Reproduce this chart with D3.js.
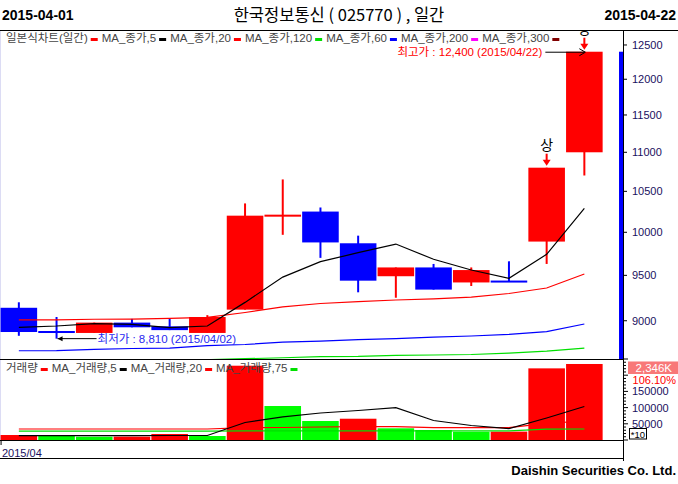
<!DOCTYPE html>
<html><head><meta charset="utf-8">
<script src="https://cdn.jsdelivr.net/npm/d3@7"></script>
<style>
body{margin:0;background:#fff}
svg{display:block}
text{font-family:"Liberation Sans",Arial,"Noto Sans CJK KR",sans-serif}
</style>
</head><body>
<svg id="c" width="678" height="484"></svg>
<script>
// ---------------- data ----------------
const dates = ["2015-04-01","2015-04-02","2015-04-03","2015-04-06","2015-04-07","2015-04-08","2015-04-09","2015-04-10",
               "2015-04-13","2015-04-14","2015-04-15","2015-04-16","2015-04-17","2015-04-20","2015-04-21","2015-04-22"];
const openP  = [9140, 8880, 8870, 8980, 8940, 8870, 9120, 10200, 10250, 9870, 9490, 9590, 9420, 9430, 9890, 11000];
const highP  = [9200, 9040, 8980, 9020, 9020, 9060, 10350, 10650, 10300, 9960, 9590, 9630, 9590, 9660, 10800, 12400];
const lowP   = [8840, 8810, 8870, 8930, 8900, 8870, 9120, 9970, 9700, 9310, 9250, 9340, 9380, 9430, 9630, 10700];
const closeP = [8880, 8860, 8980, 8930, 8900, 9040, 10200, 10200, 9880, 9440, 9590, 9340, 9560, 9430, 10800, 12400];
const ma5    = [8929, 8944, 8970, 8961, 8927, 8944, 9199, 9480, 9656, 9760, 9861, 9684, 9561, 9467, 9741, 10290];
const ma20   = [9010, 9010, 9016, 9018, 9026, 9037, 9089, 9149, 9187, 9208, 9225, 9238, 9257, 9297, 9358, 9516];
const ma60   = [8684, 8686, 8698, 8707, 8712, 8738, 8749, 8774, 8785, 8800, 8811, 8827, 8838, 8854, 8885, 8965];
const ma120  = [8560, 8566, 8572, 8578, 8584, 8592, 8602, 8612, 8623, 8625, 8637, 8640, 8645, 8660, 8681, 8712];
const limitUp = ["2015-04-21","2015-04-22"];
const volume = [154000, 133000, 102000, 105000, 185000, 123000, 2293000, 1049000, 586000, 657000, 361000, 309000, 256000, 259000, 2211000, 2346000];
const volMa5  = [132700, 132700, 132700, 132700, 138900, 138900, 540000, 716000, 833000, 910000, 997000, 602000, 447500, 348800, 679000, 1034000];
const volMa20 = [339500, 339500, 339500, 339500, 339500, 339500, 379600, 385800, 401000, 410500, 410500, 379600, 379600, 379600, 515400, 586400];
const volMa75 = [277000, 277000, 277000, 277000, 277000, 277000, 283000, 283000, 283000, 283000, 283000, 283000, 283000, 283000, 333000, 340000];
const priceTicks = [9000, 9500, 10000, 10500, 11000, 11500, 12000, 12500];
const volTicks = [500000, 1000000, 1500000];
const volMultiplier = 10;
const titleText = "한국정보통신 ( 025770 ) , 일간";
const startLabel = "2015-04-01", endLabel = "2015-04-22";
const monthLabel = "2015/04";
const priceLegend = [
  {label:"일본식차트(일간)", color:"#ff0000"},
  {label:"MA_종가,5", color:"#000000"},
  {label:"MA_종가,20", color:"#ff0000"},
  {label:"MA_종가,120", color:"#00e000"},
  {label:"MA_종가,60", color:"#0000ff"},
  {label:"MA_종가,200", color:"#ff00ff"},
  {label:"MA_종가,300", color:"#800000"}
];
const volLegend = [
  {label:"거래량", color:"#ff0000"},
  {label:"MA_거래량,5", color:"#000000"},
  {label:"MA_거래량,20", color:"#ff0000"},
  {label:"MA_거래량,75", color:"#00e000"}
];
const footer = "Daishin Securities Co. Ltd.";
const volRatioLabel = "106.10%";

// ---------------- layout ----------------
const svg = d3.select("#c");
const RED = "#ff0000", BLUE = "#0000ff", GREEN = "#00ff00", AXC = "#1a1060";
const paneTop = 30, priceBottom = 359, volBottom = 440, plotRight = 623;

const xb = d3.scaleBand().domain(dates).range([0, 603.2]).paddingInner(0.03).paddingOuter(0.015);
const xc = i => xb(dates[i]) + xb.bandwidth() / 2;
const yP = d3.scaleLog().domain([8599, 12725]).range([priceBottom, paneTop]);
const yV = d3.scaleLinear().domain([0, 2500000]).range([volBottom, priceBottom]);

const defs = svg.append("defs");
defs.append("clipPath").attr("id","cp").append("rect").attr("x",0).attr("y",paneTop).attr("width",plotRight).attr("height",priceBottom-paneTop);
defs.append("clipPath").attr("id","cv").append("rect").attr("x",0).attr("y",priceBottom).attr("width",plotRight).attr("height",volBottom-priceBottom);

// header
svg.append("text").attr("x",2).attr("y",20).attr("font-size",14).attr("font-weight","bold").text(startLabel);
svg.append("text").attr("x",676).attr("y",20).attr("text-anchor","end").attr("font-size",14).attr("font-weight","bold").text(endLabel);
svg.append("text").attr("x",339).attr("y",21).attr("text-anchor","middle").attr("font-size",16.5)
  .style("font-family",'"Noto Sans CJK KR","Liberation Sans",sans-serif').text(titleText);

// faint left edge
svg.append("line").attr("x1",0.5).attr("x2",0.5).attr("y1",paneTop).attr("y2",volBottom).attr("stroke","#dcdcf4");

// ---------------- price pane ----------------
const gp = svg.append("g").attr("clip-path","url(#cp)");
function candleColor(i){
  if (closeP[i] > openP[i]) return RED;
  if (closeP[i] < openP[i]) return BLUE;
  return (i === 0 || closeP[i] >= closeP[i-1]) ? RED : BLUE;
}
const cg = gp.selectAll("g.cd").data(dates).join("g");
cg.append("line")
  .attr("x1",(d,i)=>xc(i)).attr("x2",(d,i)=>xc(i))
  .attr("y1",(d,i)=>yP(highP[i])).attr("y2",(d,i)=>yP(lowP[i]))
  .attr("stroke",(d,i)=>candleColor(i)).attr("stroke-width",2);
cg.append("rect")
  .attr("x",d=>xb(d)).attr("width",xb.bandwidth())
  .attr("y",(d,i)=>{const a=yP(openP[i]),b=yP(closeP[i]);return Math.abs(a-b)<2?Math.min(a,b)-1:Math.min(a,b);})
  .attr("height",(d,i)=>Math.max(2,Math.abs(yP(openP[i])-yP(closeP[i]))))
  .attr("fill",(d,i)=>candleColor(i));

const lineP = d3.line().defined(d=>d!=null).x((d,i)=>xc(i)).y(d=>yP(d));
[[ma120,"#00e000"],[ma60,BLUE],[ma20,RED],[ma5,"#000"]].forEach(([arr,c])=>{
  gp.append("path").attr("d",lineP(arr)).attr("fill","none").attr("stroke",c).attr("stroke-width",1.2);
});

// limit-up markers
limitUp.forEach(d=>{
  const i = dates.indexOf(d);
  const cx = xc(i), top = yP(Math.max(openP[i],closeP[i]));
  gp.append("text").attr("x",cx).attr("y",top-17.5).attr("text-anchor","middle").attr("font-size",14)
    .style("font-family",'"Noto Sans CJK KR",sans-serif').text("상");
  gp.append("line").attr("x1",cx).attr("x2",cx).attr("y1",top-14).attr("y2",top-7).attr("stroke",RED).attr("stroke-width",2);
  gp.append("path").attr("d",`M${cx-4},${top-8}L${cx+4},${top-8}L${cx},${top-2}Z`).attr("fill",RED);
});

// highest / lowest annotations
(function(){
  const iH = d3.maxIndex(highP), iL = d3.minIndex(lowP);
  const hx = xc(iH), hy = yP(highP[iH]);
  gp.append("line").attr("x1",hx-39).attr("x2",hx).attr("y1",hy+0.5).attr("y2",hy+0.5).attr("stroke","#000");
  gp.append("path").attr("d",`M${hx-5},${hy-3}L${hx+1},${hy+0.5}L${hx-5},${hy+4}`).attr("fill","none").attr("stroke","#000");
  svg.append("text").attr("x",hx-42).attr("y",hy+0.5).attr("dominant-baseline","central").attr("text-anchor","end")
    .attr("font-size",11.5).attr("fill",RED)
    .text(`최고가 : ${d3.format(",")(highP[iH])} (${dates[iH].replace(/-/g,"/")})`);
  const lx = xc(iL), ly = yP(lowP[iL]);
  gp.append("line").attr("x1",lx+40).attr("x2",lx+1).attr("y1",ly).attr("y2",ly).attr("stroke","#000");
  gp.append("path").attr("d",`M${lx+1},${ly}L${lx+6},${ly-2.5}L${lx+6},${ly+2.5}Z`).attr("fill","#000");
  gp.append("text").attr("x",lx+41).attr("y",ly).attr("dominant-baseline","central")
    .attr("font-size",11.5).attr("fill","#2828f0")
    .text(`최저가 : ${d3.format(",")(lowP[iL])} (${dates[iL].replace(/-/g,"/")})`);
})();

// current price bar
svg.append("rect").attr("x",619).attr("width",4).attr("y",yP(closeP[closeP.length-1]))
  .attr("height",priceBottom-yP(closeP[closeP.length-1])).attr("fill",BLUE);

// legend
function legend(items, x0, baseline){
  let x = x0;
  items.forEach(it=>{
    const t = svg.append("text").attr("x",x).attr("y",baseline).attr("font-size",11.5).attr("fill","#444").text(it.label);
    x += t.node().getComputedTextLength() + 3;
    svg.append("rect").attr("x",x).attr("y",baseline-4).attr("width",7).attr("height",3).attr("fill",it.color);
    x += 11;
  });
}
legend(priceLegend, 6, 42);

// price axis
const pa = svg.append("g");
priceTicks.forEach(v=>{
  pa.append("line").attr("x1",plotRight).attr("x2",plotRight+4).attr("y1",yP(v)).attr("y2",yP(v)).attr("stroke","#000");
  pa.append("text").attr("x",632).attr("y",yP(v)).attr("dominant-baseline","central").attr("font-size",11).attr("fill",AXC).text(v);
});

// ---------------- volume pane ----------------
const gv = svg.append("g").attr("clip-path","url(#cv)");
gv.selectAll("rect.v").data(dates).join("rect")
  .attr("x",d=>xb(d)).attr("width",xb.bandwidth())
  .attr("y",(d,i)=>yV(volume[i])).attr("height",(d,i)=>volBottom-yV(volume[i]))
  .attr("fill",(d,i)=> (i===0 || volume[i] >= volume[i-1]) ? RED : GREEN);
const lineV = d3.line().x((d,i)=>xc(i)).y(d=>yV(d));
[[volMa75,"#00e000"],[volMa20,RED],[volMa5,"#000"]].forEach(([arr,c])=>{
  gv.append("path").attr("d",lineV(arr)).attr("fill","none").attr("stroke",c).attr("stroke-width",1.2);
});
legend(volLegend, 6, 372);

// volume axis
const va = svg.append("g");
d3.range(0, 2500001, 100000).forEach(v=>{
  const major = v % 500000 === 0;
  va.append("line").attr("x1",plotRight).attr("x2",plotRight+(major?5:3)).attr("y1",yV(v)).attr("y2",yV(v)).attr("stroke","#000");
});
volTicks.forEach(v=>{
  va.append("text").attr("x",632).attr("y",yV(v)).attr("dominant-baseline","central").attr("font-size",11).attr("fill",AXC).text(v/volMultiplier);
});
// last volume label
const lastV = volume[volume.length-1];
va.append("rect").attr("x",628).attr("y",yV(lastV)-2.5).attr("width",50).attr("height",12.5).attr("fill","#f87878");
va.append("text").attr("x",672).attr("y",yV(lastV)+4).attr("dominant-baseline","central").attr("text-anchor","end")
  .attr("font-size",11.5).attr("fill","#fff").text(d3.format(",")(Math.round(lastV/1000))+"K");
va.append("rect").attr("x",633).attr("y",yV(lastV)+11).attr("width",44).attr("height",10).attr("fill","#fff");
va.append("text").attr("x",676).attr("y",yV(lastV)+16.5).attr("dominant-baseline","central").attr("text-anchor","end")
  .attr("font-size",11).attr("fill",RED).text(volRatioLabel);
va.append("rect").attr("x",629.5).attr("y",428.5).attr("width",17).attr("height",10.5).attr("fill","#fff").attr("stroke","#000");
va.append("text").attr("x",638).attr("y",434.5).attr("dominant-baseline","central").attr("text-anchor","middle")
  .attr("font-size",9.5).attr("fill","#000").text("*"+volMultiplier);

// frame lines
svg.append("line").attr("x1",0).attr("x2",678).attr("y1",30.5).attr("y2",30.5).attr("stroke","#000");
[priceBottom+0.5, volBottom+0.5, 458.5].forEach(y=>{
  svg.append("line").attr("x1",0).attr("x2",plotRight).attr("y1",y).attr("y2",y).attr("stroke","#000");
});
svg.append("line").attr("x1",plotRight+0.5).attr("x2",plotRight+0.5).attr("y1",paneTop).attr("y2",461).attr("stroke","#000");

// date axis
svg.append("line").attr("x1",xb(dates[0])+0.5).attr("x2",xb(dates[0])+0.5).attr("y1",volBottom).attr("y2",volBottom+5).attr("stroke","#000");
svg.append("text").attr("x",2).attr("y",457).attr("font-size",11).attr("fill",AXC).text(monthLabel);

// footer
svg.append("text").attr("x",676).attr("y",475).attr("text-anchor","end").attr("font-size",13).attr("font-weight","bold").text(footer);
</script>
</body></html>
